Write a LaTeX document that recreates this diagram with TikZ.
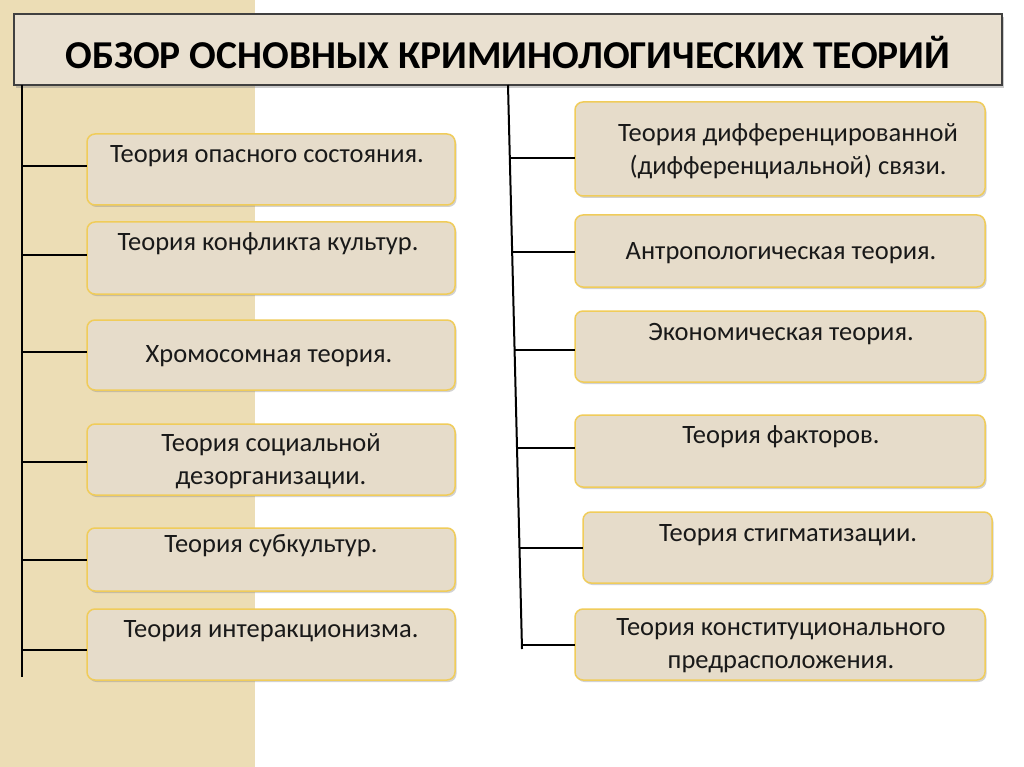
\documentclass[tikz,border=0pt]{standalone}
\usepackage{fontspec}
\setmainfont{Carlito}
\usetikzlibrary{shadows}
\definecolor{strip}{HTML}{ECDDB5}
\definecolor{boxfill}{HTML}{E6DCCA}
\definecolor{boxline}{HTML}{F0CC5A}
\definecolor{titlefill}{HTML}{E9E0D0}
\tikzset{
  tbox/.style={draw=boxline,line width=1.5pt,fill=boxfill,rounded corners=8pt,
    drop shadow={shadow xshift=1.5pt,shadow yshift=-2pt,opacity=0.35}},
  ttext/.style={font=\fontsize{26.5}{33}\selectfont,align=center,text=black!90},
  conn/.style={line width=2pt,black}
}
\begin{document}
\begin{tikzpicture}[x=1pt,y=-1pt]
\useasboundingbox (0,0) rectangle (1024,767);
\fill[white] (0,0) rectangle (1024,767);
\fill[strip] (0,0) rectangle (255,767);
\draw[draw=black!75,line width=1.2pt,fill=titlefill,drop shadow={shadow xshift=2pt,shadow yshift=-3pt,opacity=0.4}] (14,14) rectangle (1002,85);
\node[font=\bfseries\fontsize{39.5}{44}\selectfont] (title) at (508,52) {ОБЗОР ОСНОВНЫХ КРИМИНОЛОГИЧЕСКИХ ТЕОРИЙ};
% left boxes
\foreach \n/\a/\b in {L1/134/205,L2/222/294,L3/320/390,L4/424/495,L5/528/591,L6/609/680}
  \path[tbox] (87,\a) rectangle (455,\b) coordinate (\n);
\node[ttext] (l1) at (267,156) {Теория опасного состояния.};
\node[ttext] (l2) at (268,244) {Теория конфликта культур.};
\node[ttext] (l3) at (269,356) {Хромосомная теория.};
\node[ttext] (l4) at (271,461) {Теория социальной\\дезорганизации.};
\node[ttext] (l5) at (271,546) {Теория субкультур.};
\node[ttext] (l6) at (271,631) {Теория интеракционизма.};
% right boxes
\foreach \n/\x/\y/\a/\b in {R1/575/985/102/196,R2/575/985/215/287,R3/575/985/311/382,R4/575/985/415/487,R5/583/992/512/583,R6/575/985/609/680}
  \path[tbox] (\x,\a) rectangle (\y,\b) coordinate (\n);
\node[ttext] (r1) at (788,151) {Теория дифференцированной\\(дифференциальной) связи.};
\node[ttext] (r2) at (781,253) {Антропологическая теория.};
\node[ttext] (r3) at (781,334) {Экономическая теория.};
\node[ttext] (r4) at (781,437) {Теория факторов.};
\node[ttext] (r5) at (788,535) {Теория стигматизации.};
\node[ttext] (r6) at (781,646) {Теория конституционального\\предрасположения.};
% connectors left
\coordinate (lt) at (22,85);
\coordinate (lb) at (22,677);
\draw[conn] (lt) -- (lb);
\foreach \y in {166,255,352,462,560,650}
  \draw[conn] (22,\y) -- (87,\y);
% connectors right
\coordinate (rt) at (508,85);
\coordinate (rb) at (522,649);
\draw[conn] (rt) -- (rb);
\foreach \y/\x in {158/575,252/575,350/575,448/575,548/583,645/575}
  \draw[conn] ({508+14*(\y-85)/564},\y) -- (\x,\y);
\end{tikzpicture}
\end{document}
